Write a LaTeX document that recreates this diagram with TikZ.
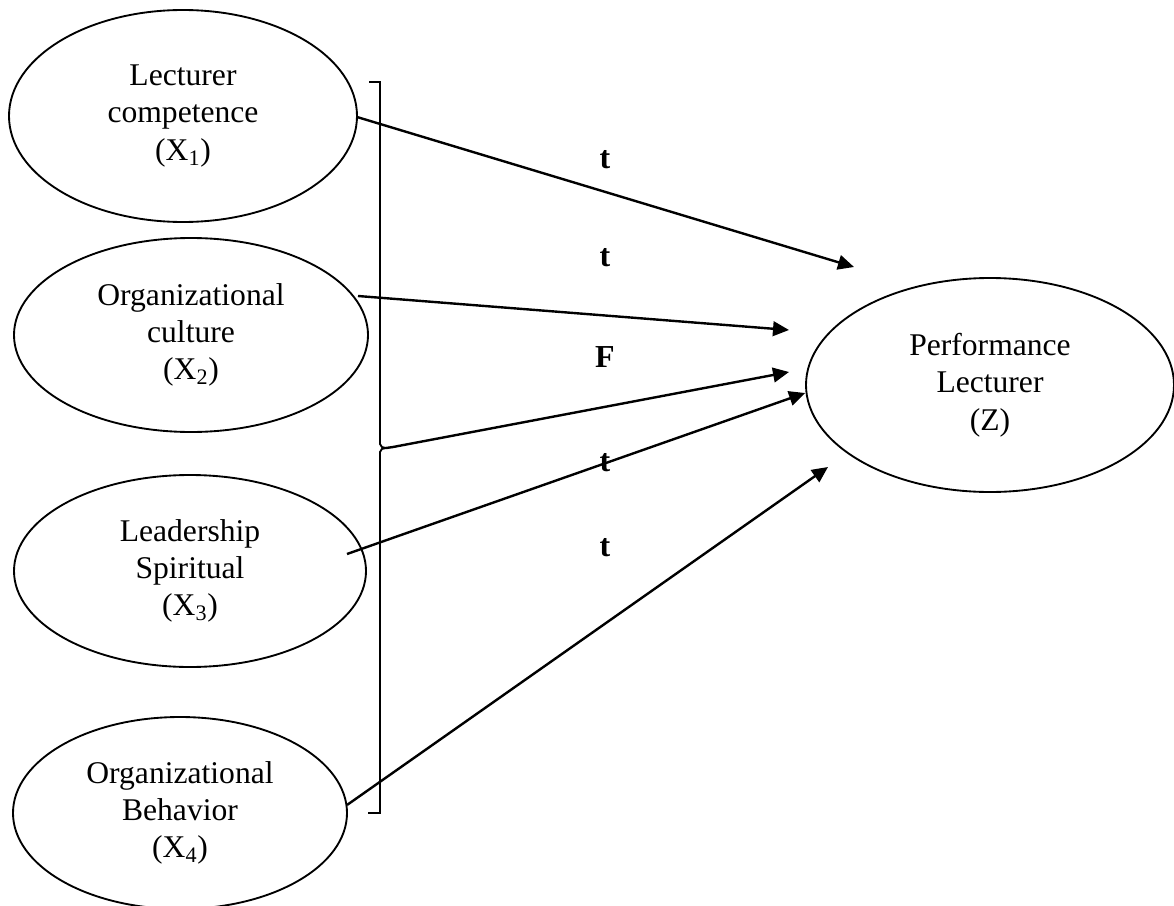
\documentclass[tikz,border=0pt]{standalone}
\usepackage{fontspec}
\setmainfont{Liberation Serif}
\usetikzlibrary{shapes.geometric,arrows.meta}
\tikzset{
  var/.style={draw, ellipse, line width=1.4pt, inner sep=0pt, align=center,
    font=\fontsize{23.7}{28}\selectfont},
  link/.style={line width=1.8pt, -{Triangle[length=12pt,width=11pt]}},
  brack/.style={line width=1.4pt},
  lab/.style={font=\fontsize{24}{28}\selectfont\bfseries, inner sep=0pt}
}
\begin{document}
\begin{tikzpicture}[x=0.75pt,y=-0.75pt]
\useasboundingbox (0,0) rectangle (1174,906);
\node[var, minimum width=261pt, minimum height=159pt] (E1) at (183,116) {Lecturer\\competence\\(X\textsubscript{1})};
\node[var, minimum width=265.5pt, minimum height=145.5pt] (E2) at (191,335) {Organizational\\culture\\(X\textsubscript{2})};
\node[var, minimum width=264pt, minimum height=144pt] (E3) at (190,571) {Leadership\\Spiritual\\(X\textsubscript{3})};
\node[var, minimum width=250.5pt, minimum height=144pt] (E4) at (180,813) {Organizational\\Behavior\\(X\textsubscript{4})};
\node[var, minimum width=276pt, minimum height=160.5pt] (Z) at (990,385) {Performance\\Lecturer\\(Z)};
% bracket
\coordinate (btop) at (369,82);
\coordinate (btip) at (386,448);
\coordinate (bbot) at (368,813);
\draw[brack] (btop) -- (380,82) -- (380,444) to[out=-90,in=180] (btip);
\draw[brack] (btip) to[out=180,in=90] (380,452) -- (380,813) -- (bbot);
% start / end points
\coordinate (s1) at (357,117);
\coordinate (s2) at (358,296);
\coordinate (s4) at (347,554);
\coordinate (s5) at (347,805);
\coordinate (e1) at (854,267);
\coordinate (e2) at (789,330);
\coordinate (e3) at (789,372);
\coordinate (e5) at (828,467);
\draw[link] (s1) -- (e1);
\draw[link] (s2) -- (e2);
\draw[link] (btip) -- (393,447) -- (e3);
\draw[link] (s4) -- (Z.west |- 0,393);
\draw[link] (s5) -- (e5);
% labels
\node[lab] (l1) at (605,160) {t};
\node[lab] (l2) at (605,258) {t};
\node[lab] (l3) at (605,357) {F};
\node[lab] (l4) at (605,463) {t};
\node[lab] (l5) at (605,548) {t};
\end{tikzpicture}
\end{document}
